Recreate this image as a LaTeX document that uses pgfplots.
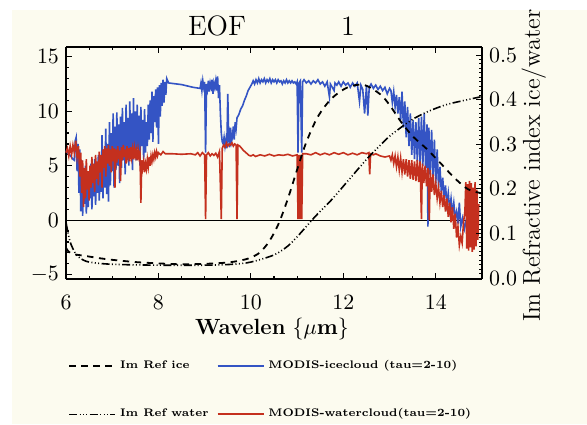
\documentclass[border=0pt]{standalone}
\usepackage{pgfplots}
\pgfplotsset{compat=1.18}
\definecolor{Paper}{HTML}{FCFBEF}
\definecolor{IceBlue}{HTML}{3454C4}
\definecolor{WaterRed}{HTML}{C4301E}

\tikzset{
  iceref/.style={black, line width=0.9pt, dash pattern=on 3.2pt off 2.8pt},
  waterref/.style={black, line width=0.8pt,
    dash pattern=on 4pt off 1.2pt on 0.5pt off 1.2pt on 0.5pt off 1.2pt on 0.5pt off 1.2pt},
}
\pgfplotsset{longline legend/.style={legend image code/.code={\draw[##1] (0pt,0pt) -- (23pt,0pt);}}}

\begin{document}
\begin{tikzpicture}
\fill[Paper] (-27pt,-72.5pt) rectangle (260.5pt,134.5pt);

% left axis: EOF of the two cloud classes
\begin{axis}[
  scale only axis, width=208pt, height=116pt,
  xmin=6, xmax=15, ymin=-5.4, ymax=15.9,
  axis y line*=left,
  xtick={6,8,10,12,14}, minor x tick num=3,
  ytick={-5,0,5,10,15}, minor y tick num=4,
  tick align=inside,
  major tick length=3pt, minor tick length=1.6pt,
  axis line style={line width=0.7pt},
  tick style={black, line width=0.6pt},
  ticklabel style={font=\fontsize{10.5}{12}\selectfont},
  xticklabel style={yshift=-4.5pt},
  xlabel={\textbf{Wavelen} $\{\mu\mathbf{m}\}$},
  xlabel style={at={(axis description cs:0.495,-0.215)}, anchor=center,
    font=\fontsize{11}{13}\selectfont},
  clip=false,
  legend columns=2,
  legend cell align=left,
  longline legend,
  legend style={at={(axis description cs:-0.01,-0.315)}, anchor=north west,
    draw=none, fill=none, font=\fontsize{5.5}{6.5}\selectfont\bfseries,
    /tikz/every even column/.append style={column sep=2pt}},
]
\addplot[black, line width=0.5pt, forget plot] coordinates {(6,0) (15,0)};

\addplot[IceBlue, line width=0.8pt, forget plot] coordinates {
(6.00,6.4) (6.05,6.1) (6.10,5.9) (6.15,5.6) (6.18,5.5) (6.20,7.3) (6.22,7.6) (6.24,4.5) (6.26,7.0) (6.28,2.5) (6.30,6.5)
(6.32,0.8) (6.34,5.5) (6.36,0.4) (6.38,4.0) (6.40,1.5) (6.42,5.0) (6.44,0.6) (6.46,3.8) (6.48,1.2) (6.50,4.5)
(6.52,2.0) (6.54,5.2) (6.56,1.0) (6.58,3.6) (6.60,2.2) (6.62,5.6) (6.64,1.4) (6.66,4.2) (6.68,2.5) (6.70,6.0)
(6.72,1.8) (6.74,5.0) (6.76,2.6) (6.78,7.8) (6.80,2.0) (6.82,6.5) (6.84,3.0) (6.86,8.4) (6.88,2.4) (6.90,7.0)
(6.92,1.7) (6.94,9.0) (6.96,3.2) (6.98,8.0) (7.00,4.5) (7.02,9.8) (7.04,3.0) (7.06,8.6) (7.08,4.6) (7.10,9.9)
(7.12,5.0) (7.14,8.8) (7.16,3.4) (7.18,9.5) (7.20,4.8) (7.22,10.3) (7.24,5.5) (7.26,9.0) (7.28,4.2) (7.30,10.6)
(7.32,6.0) (7.34,9.4) (7.36,5.0) (7.38,10.9) (7.40,6.4) (7.42,9.8) (7.44,4.6) (7.46,11.2) (7.48,6.0) (7.50,10.0)
(7.52,5.5) (7.54,10.6) (7.56,6.5) (7.58,9.6) (7.60,5.0) (7.62,10.4) (7.64,6.8) (7.66,9.2) (7.68,5.6) (7.70,10.2)
(7.72,6.2) (7.74,9.0) (7.76,6.8) (7.78,10.6) (7.80,7.4) (7.82,11.0) (7.84,8.0) (7.86,11.8) (7.88,7.2) (7.90,11.4)
(7.92,9.0) (7.94,12.0) (7.96,8.5) (7.98,12.2) (8.00,7.0) (8.02,12.4) (8.04,9.5) (8.06,12.6) (8.08,10.5) (8.10,12.9)
(8.12,10.8) (8.14,12.7) (8.16,11.5) (8.18,13.0) (8.22,12.6) (8.50,12.45) (8.75,12.2) (8.90,12.1)
(8.92,12.6) (8.94,11.9) (8.96,12.8) (8.98,12.2) (9.00,12.7) (9.02,6.2) (9.04,12.5) (9.06,12.0) (9.08,12.8) (9.10,11.8)
(9.12,12.6) (9.14,12.2) (9.16,12.9) (9.18,11.6) (9.20,12.6) (9.22,12.2) (9.24,12.8) (9.26,11.9) (9.28,13.2) (9.30,11.2)
(9.32,12.4) (9.34,9.8) (9.36,8.0) (9.38,7.2) (9.40,7.0) (9.42,7.6) (9.44,6.8) (9.46,7.4) (9.48,6.6) (9.50,11.6)
(9.52,7.5) (9.54,6.7) (9.56,8.5) (9.58,7.2) (9.60,7.6) (9.62,8.6) (9.64,7.4) (9.66,9.0) (9.68,8.4) (9.70,9.4)
(9.74,9.7) (9.78,10.2) (9.82,10.5) (9.86,11.0) (9.90,11.4) (9.94,11.9) (9.98,12.2)
(10.02,12.5) (10.05,12.8) (10.08,12.5) (10.11,12.9) (10.14,12.6) (10.17,13.0) (10.20,12.6) (10.23,12.9) (10.26,12.7)
(10.29,13.0) (10.32,12.6) (10.35,12.9) (10.38,12.7) (10.41,13.0) (10.44,12.6) (10.47,12.9) (10.50,12.7) (10.53,12.9)
(10.56,12.6) (10.59,12.9) (10.62,12.7) (10.65,12.8) (10.68,12.5) (10.71,12.8) (10.74,12.6) (10.77,12.9) (10.80,12.6)
(10.83,12.8) (10.86,12.6) (10.89,12.8) (10.92,12.6) (10.95,12.7) (10.98,12.5) (11.00,12.7) (11.02,6.2) (11.04,12.6)
(11.07,12.8) (11.10,6.2) (11.12,12.7)
(11.15,12.9) (11.20,12.6) (11.25,12.8) (11.30,12.5) (11.35,12.8) (11.40,12.6) (11.45,12.9) (11.50,12.5) (11.55,12.7)
(11.60,12.3) (11.65,12.7) (11.70,11.3) (11.72,12.5) (11.76,12.2) (11.80,11.9) (11.82,12.6) (11.86,12.4) (11.90,12.7)
(11.95,12.3) (12.00,12.7) (12.05,12.4) (12.10,12.6) (12.15,12.2) (12.20,12.6) (12.25,12.3) (12.30,12.6) (12.35,10.9)
(12.38,12.4) (12.42,12.0) (12.46,9.8) (12.50,12.3) (12.53,9.6) (12.56,12.2) (12.60,12.5) (12.65,12.1) (12.70,12.4)
(12.75,12.0) (12.80,12.3) (12.85,11.9) (12.90,12.2) (12.95,11.6) (13.00,12.1)
(13.03,11.9) (13.06,10.8) (13.09,11.8) (13.12,10.4) (13.15,11.5) (13.18,9.8) (13.21,11.3) (13.24,9.2) (13.27,11.8)
(13.30,8.5) (13.33,10.9) (13.36,7.6) (13.39,10.4) (13.42,6.8) (13.45,9.8) (13.48,6.0) (13.51,9.2) (13.54,5.6)
(13.57,9.0) (13.60,5.4) (13.63,9.4) (13.66,5.2) (13.69,9.5) (13.72,5.0) (13.75,9.8) (13.78,4.8) (13.81,8.8)
(13.83,-0.6) (13.85,8.5) (13.88,4.2) (13.91,8.3) (13.94,4.0) (13.97,7.4) (14.00,3.4) (14.03,6.5) (14.06,3.0)
(14.09,4.9) (14.12,2.6) (14.15,3.9) (14.18,2.0) (14.21,3.2) (14.24,1.5) (14.27,2.5) (14.30,1.0) (14.33,2.0)
(14.36,0.6) (14.39,1.6) (14.42,0.2) (14.45,0.8) (14.48,-0.3) (14.51,1.6) (14.54,-0.6) (14.58,0.2) (14.62,-0.8)
(14.66,0.0) (14.70,-0.9) (14.74,-0.2) (14.78,-0.8) (14.82,0.0) (14.86,-0.6) (14.90,-0.3)
};

\addplot[WaterRed, line width=0.8pt, forget plot] coordinates {
(6.00,6.2) (6.03,6.6) (6.06,5.9) (6.09,6.8) (6.12,6.0) (6.15,6.9) (6.18,6.2) (6.21,7.3) (6.24,5.8) (6.27,6.8)
(6.30,4.0) (6.32,6.2) (6.34,2.5) (6.36,5.5) (6.38,1.2) (6.40,4.8) (6.42,2.0) (6.44,5.6) (6.46,2.8) (6.48,4.5)
(6.50,1.8) (6.52,5.0) (6.54,3.0) (6.56,5.8) (6.58,3.4) (6.60,5.2) (6.62,2.6) (6.64,6.0) (6.66,3.8) (6.68,5.4)
(6.70,3.2) (6.72,6.3) (6.74,4.4) (6.76,6.0) (6.78,3.0) (6.80,6.5) (6.82,4.8) (6.84,6.8) (6.86,4.0) (6.88,6.6)
(6.90,5.2) (6.92,6.9) (6.94,5.0) (6.96,6.5) (6.98,4.4) (7.00,6.8) (7.02,5.4) (7.04,6.6) (7.06,3.0) (7.08,6.5)
(7.10,5.3) (7.12,6.8) (7.14,5.6) (7.16,6.4) (7.18,3.6) (7.20,6.7) (7.22,5.5) (7.24,6.9) (7.26,5.8) (7.28,6.5)
(7.30,5.2) (7.32,6.8) (7.34,5.9) (7.36,6.6) (7.38,5.4) (7.40,6.7) (7.42,5.8) (7.44,6.5) (7.46,5.6) (7.48,6.6)
(7.50,5.9) (7.52,6.4) (7.54,5.5) (7.56,6.5) (7.58,5.8) (7.60,6.2) (7.62,1.6) (7.64,5.5) (7.66,4.8) (7.68,5.4)
(7.70,4.4) (7.72,5.2) (7.74,4.7) (7.76,5.6) (7.78,4.9) (7.80,5.8) (7.82,5.0) (7.84,5.9) (7.86,5.4) (7.88,6.0)
(7.90,5.6) (7.92,6.2) (7.94,5.8) (7.96,6.3) (7.98,5.9) (8.00,6.2) (8.05,6.0) (8.10,6.3) (8.15,6.1)
(8.30,6.1) (8.50,6.05) (8.70,6.1) (8.80,6.0) (8.85,6.2) (8.90,5.9) (8.95,6.2) (9.00,6.0) (9.02,0.1) (9.04,6.0)
(9.08,6.2) (9.12,5.9) (9.16,6.1) (9.20,5.95) (9.24,6.15) (9.28,5.8) (9.32,6.3) (9.36,0.1) (9.38,6.6) (9.41,6.9)
(9.44,6.7) (9.47,7.1) (9.50,6.8) (9.53,7.0) (9.56,6.9) (9.59,7.1) (9.62,6.8) (9.65,7.0) (9.68,6.9) (9.70,0.1)
(9.72,6.9) (9.76,6.8) (9.80,6.6) (9.84,6.4) (9.88,6.25) (9.92,6.1) (9.96,5.95)
(10.00,5.9) (10.05,6.0) (10.10,5.85) (10.20,6.0) (10.30,5.9) (10.40,6.05) (10.50,5.9) (10.60,6.0) (10.70,5.95)
(10.80,6.05) (10.90,5.9) (11.00,6.0) (11.02,0.1) (11.04,6.0) (11.06,0.1) (11.08,6.0) (11.10,0.1) (11.12,6.1)
(11.20,6.1) (11.30,6.0) (11.40,6.2) (11.50,6.0) (11.60,6.15) (11.70,6.0) (11.80,6.2) (11.90,6.05) (12.00,6.2)
(12.10,6.0) (12.20,6.15) (12.30,6.0) (12.40,6.2) (12.50,6.1) (12.55,6.2) (12.57,4.2) (12.59,6.1) (12.65,6.0)
(12.70,6.1) (12.80,5.9) (12.90,5.8) (13.00,5.9)
(13.03,5.5) (13.06,6.0) (13.09,5.2) (13.12,5.9) (13.15,4.9) (13.18,5.8) (13.21,4.6) (13.24,5.7) (13.27,4.4)
(13.30,5.6) (13.33,4.2) (13.36,5.6) (13.39,4.0) (13.42,5.5) (13.45,3.8) (13.48,5.5) (13.51,3.7) (13.54,5.4)
(13.57,3.6) (13.60,5.5) (13.63,3.5) (13.66,5.4) (13.69,0.1) (13.71,5.2) (13.74,3.4) (13.77,5.0) (13.80,3.1)
(13.83,4.8) (13.86,0.0) (13.88,4.6) (13.91,2.6) (13.94,4.2) (13.97,2.3) (14.00,3.4) (14.03,2.0) (14.06,3.0)
(14.09,1.6) (14.12,2.7) (14.15,1.2) (14.18,2.3) (14.21,0.8) (14.24,2.0) (14.27,0.3) (14.30,1.6) (14.33,-0.2)
(14.36,1.2) (14.39,-0.8) (14.42,0.6) (14.45,-1.6) (14.48,-0.6) (14.51,-2.3) (14.54,-1.5) (14.57,-2.1) (14.60,-0.2)
(14.63,0.8) (14.65,3.5) (14.67,-2.6) (14.69,3.3) (14.71,-2.8) (14.73,3.6) (14.75,-2.5) (14.77,3.4) (14.79,-2.9)
(14.81,3.0) (14.83,-2.7) (14.85,3.5) (14.87,-2.4) (14.89,2.8) (14.91,-1.8) (14.93,1.5)
};

\addlegendimage{iceref}
\addlegendentry{Im Ref ice}
\addlegendimage{IceBlue, line width=0.9pt}
\addlegendentry{MODIS-icecloud (tau=2-10)}
\addlegendimage{empty legend}
\addlegendentry{\rule{0pt}{9pt}}
\addlegendimage{empty legend}
\addlegendentry{\rule{0pt}{9pt}}
\addlegendimage{waterref}
\addlegendentry{Im Ref water}
\addlegendimage{WaterRed, line width=0.9pt}
\addlegendentry{MODIS-watercloud(tau=2-10)}

\node[font=\fontsize{14}{16}\selectfont] at (axis description cs:0.363,1.09) {EOF};
\node[font=\fontsize{14}{16}\selectfont] at (axis description cs:0.678,1.09) {1};
\end{axis}

% right axis: imaginary refractive index
\begin{axis}[
  scale only axis, width=208pt, height=116pt,
  xmin=6, xmax=15, ymin=-0.002, ymax=0.518,
  axis y line*=right, axis x line=none,
  ytick={0,0.1,0.2,0.3,0.4,0.5}, minor y tick num=9,
  tick align=inside,
  major tick length=3pt, minor tick length=1.6pt,
  axis line style={line width=0.7pt},
  tick style={black, line width=0.5pt},
  ticklabel style={font=\fontsize{10.5}{12}\selectfont},
  yticklabel style={/pgf/number format/.cd, fixed, fixed zerofill, precision=1},
  ylabel={Im Refractive index ice/water},
  ylabel style={at={(axis description cs:1.139,-0.215)}, rotate=0,
    anchor=base west, font=\fontsize{12.2}{14}\selectfont},
]
\addplot[iceref, smooth] coordinates {
(6.0,0.068) (6.05,0.060) (6.1,0.056) (6.2,0.053) (6.4,0.050) (6.7,0.045) (7.0,0.041) (7.5,0.036)
(8.0,0.033) (8.5,0.031) (9.0,0.032) (9.5,0.035) (9.8,0.040) (10.0,0.046) (10.2,0.058) (10.4,0.083)
(10.6,0.122) (10.8,0.178) (11.0,0.243) (11.2,0.305) (11.45,0.362) (11.75,0.403) (12.1,0.428) (12.45,0.433)
(12.8,0.412) (13.0,0.388) (13.25,0.350) (13.5,0.318) (13.8,0.290) (14.1,0.258) (14.4,0.225) (14.7,0.199)
(15.0,0.190)
};
\addplot[waterref, smooth] coordinates {
(6.0,0.125) (6.05,0.098) (6.1,0.078) (6.2,0.056) (6.3,0.045) (6.5,0.036) (7.0,0.031) (8.0,0.029)
(9.0,0.029) (9.6,0.031) (10.0,0.036) (10.5,0.052) (10.8,0.072) (11.03,0.096) (11.4,0.139) (11.74,0.175)
(12.1,0.218) (12.5,0.266) (12.8,0.298) (13.0,0.318) (13.25,0.338) (13.5,0.356) (13.8,0.372) (14.2,0.388)
(14.6,0.398) (15.0,0.407)
};
\end{axis}

\pgfresetboundingbox
\path[use as bounding box] (-33pt,-72.5pt) rectangle (260.5pt,139.5pt);
\end{tikzpicture}
\end{document}
